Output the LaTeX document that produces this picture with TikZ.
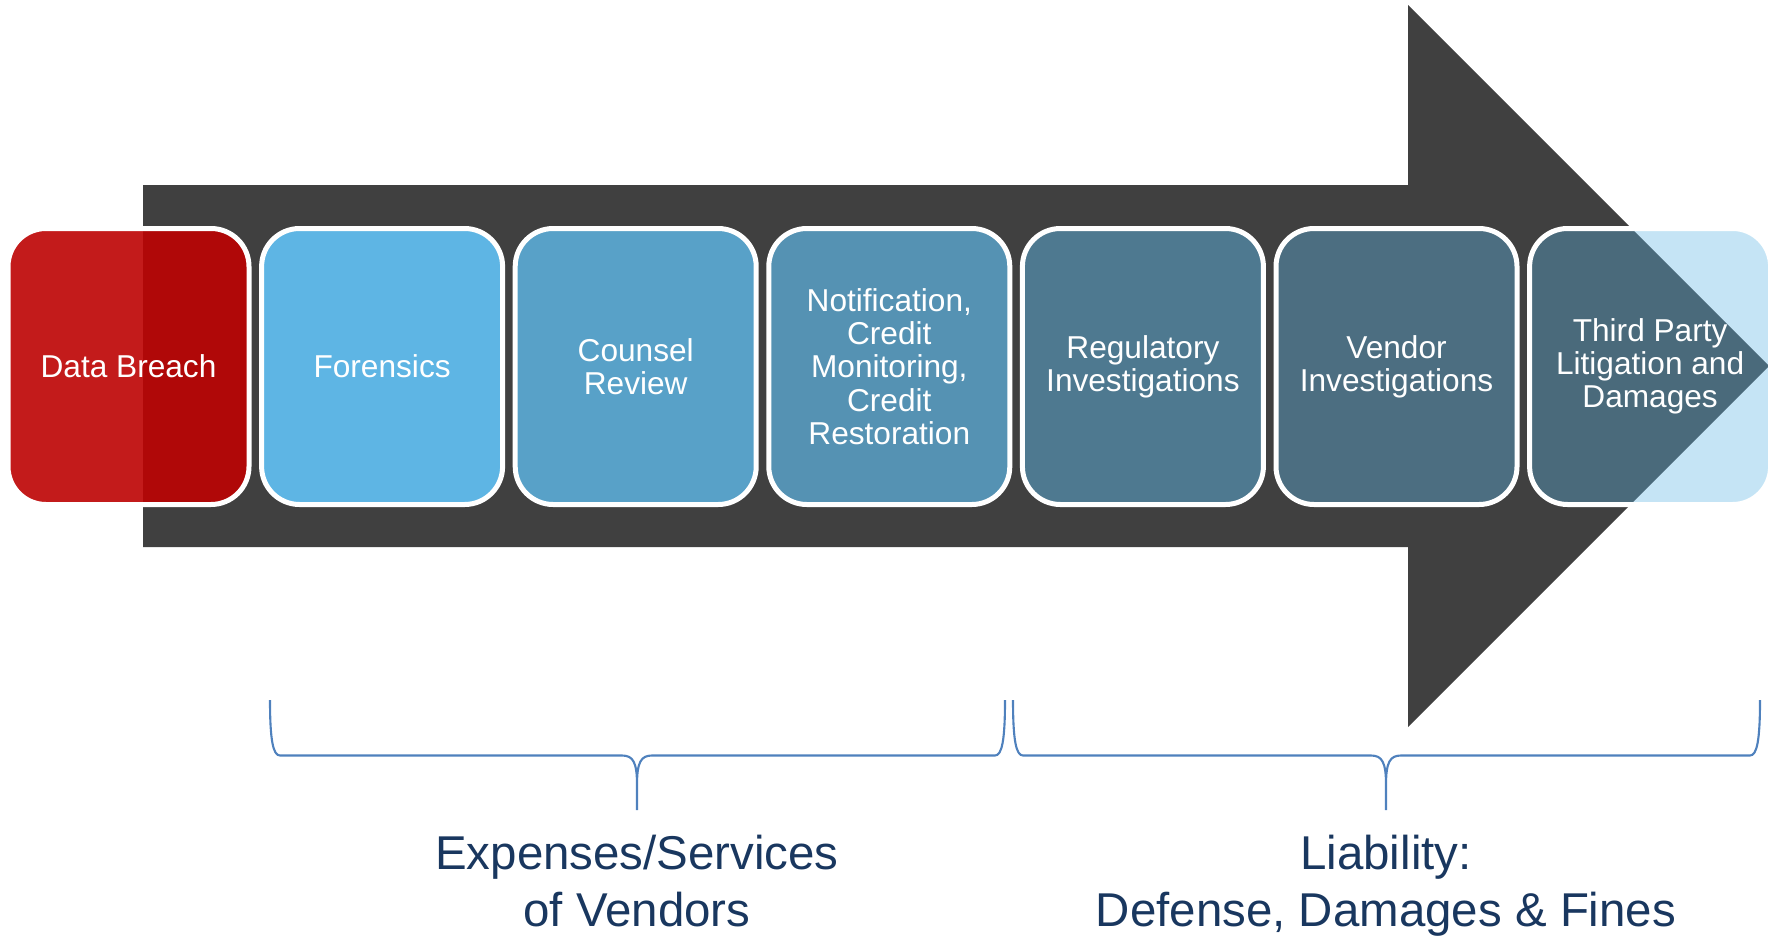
\documentclass[tikz,border=0pt]{standalone}
\usepackage{fontspec}
\setmainfont{Liberation Sans}
\usetikzlibrary{positioning}

\definecolor{arrowgray}{RGB}{64,64,64}
\definecolor{breachred}{RGB}{189,2,2}
\definecolor{stageblue}{RGB}{94,181,228}
\definecolor{bracketblue}{RGB}{79,129,189}
\definecolor{captionnavy}{RGB}{25,55,95}

\begin{document}
\begin{tikzpicture}
  [
    stage/.style = {draw = white, line width = 0.05cm, rounded corners = 0.38cm,
      minimum width = 2.41cm, minimum height = 2.76cm, inner sep = 0, outer sep = 0,
      text = white, text opacity = 1, align = center,
      font = \fontsize{9}{9.45}\selectfont},
    phase/.style = {stage, fill = stageblue, fill opacity = #1},  % fades along the arrow
    caption/.style = {text = captionnavy, align = center, inner sep = 0,
      font = \fontsize{13.5}{16.4}\selectfont},
    node distance = 0.126cm
  ]
  \useasboundingbox (0,0) rectangle (17.75,-9.35);

  % big arrow behind the stages
  \fill[arrowgray] (1.43,-1.85) -- (14.08,-1.85) -- (14.08,-0.05) -- (17.69,-3.66)
    -- (14.08,-7.27) -- (14.08,-5.47) -- (1.43,-5.47) -- cycle;

  \node[stage, fill = breachred, fill opacity = 0.9] (Breach) at (1.285,-3.665) {Data Breach};
  \node[phase = 1,    right = of Breach]     (Forensics)  {Forensics};
  \node[phase = 0.83, right = of Forensics]  (Counsel)    {Counsel\\Review};
  \node[phase = 0.7,  right = of Counsel]    (Notify)     {Notification,\\Credit\\Monitoring,\\Credit\\Restoration};
  \node[phase = 0.49, right = of Notify]     (Regulatory) {Regulatory\\Investigations};
  \node[phase = 0.4,  right = of Regulatory] (VendorInv)  {Vendor\\Investigations};
  \node[phase = 0.36, right = of VendorInv]  (ThirdParty) {Third Party\\Litigation and\\Damages};

  % brackets under the two groups
  \begin{scope}[draw = bracketblue, line width = 0.6pt]
    \draw (2.70,-7.00) .. controls (2.70,-7.40) and (2.73,-7.555) .. (2.80,-7.555)
      -- (6.22,-7.555) .. controls (6.33,-7.555) and (6.37,-7.62) .. (6.37,-7.85)
      -- (6.37,-8.10) -- (6.37,-7.85) .. controls (6.37,-7.62) and (6.41,-7.555) .. (6.52,-7.555)
      -- (9.95,-7.555) .. controls (10.02,-7.555) and (10.05,-7.40) .. (10.05,-7.00);
    \draw (10.13,-7.00) .. controls (10.13,-7.40) and (10.16,-7.555) .. (10.23,-7.555)
      -- (13.71,-7.555) .. controls (13.82,-7.555) and (13.86,-7.62) .. (13.86,-7.85)
      -- (13.86,-8.10) -- (13.86,-7.85) .. controls (13.86,-7.62) and (13.90,-7.555) .. (14.01,-7.555)
      -- (17.50,-7.555) .. controls (17.57,-7.555) and (17.60,-7.40) .. (17.60,-7.00);
  \end{scope}

  \node[caption, anchor = north] (Expenses)  at (6.37,-8.34)  {Expenses/Services\\of Vendors};
  \node[caption, anchor = north] (Liability) at (13.86,-8.34) {Liability:\\Defense, Damages \& Fines};
\end{tikzpicture}
\end{document}
